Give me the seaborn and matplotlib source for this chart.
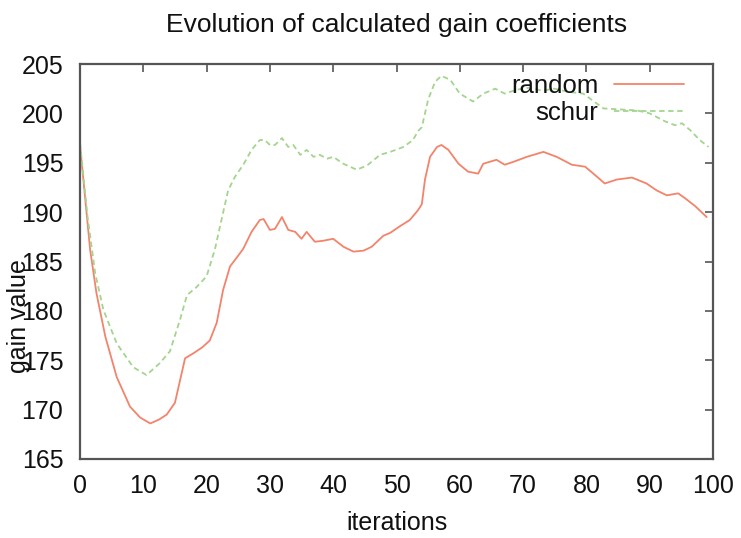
import matplotlib
matplotlib.use("Agg")
import matplotlib.pyplot as plt
from matplotlib.lines import Line2D
import seaborn as sns
import pandas as pd

# ---- data ----
random_x = [0, 1.6, 2.6, 4.0, 5.8, 7.9, 9.5, 11.1, 12.5, 13.7, 15.0, 16.6, 17.9, 19.3,
            20.5, 21.6, 22.6, 23.7, 25.0, 25.8, 27.1, 28.4, 29.0, 30.0, 30.8, 31.9,
            32.9, 34.0, 35.0, 35.8, 37.1, 38.4, 40.0, 41.6, 43.2, 44.8, 46.1, 47.9,
            49.0, 50.6, 52.1, 53.4, 54.0, 54.5, 55.3, 56.4, 57.1, 58.2, 59.8, 61.3,
            62.9, 63.7, 65.8, 67.1, 68.5, 70.6, 73.2, 75.3, 77.7, 79.8, 81.1, 82.9,
            84.8, 87.2, 89.5, 91.1, 92.7, 94.5, 95.6, 97.2, 99.0]
random_y = [196.8, 186.2, 181.8, 177.4, 173.3, 170.3, 169.2, 168.6, 169.0, 169.5, 170.7,
            175.2, 175.7, 176.3, 177.0, 178.8, 182.1, 184.5, 185.6, 186.3, 188.0, 189.2,
            189.3, 188.2, 188.3, 189.5, 188.2, 188.0, 187.3, 188.0, 187.0, 187.1, 187.3,
            186.5, 186.0, 186.1, 186.5, 187.6, 187.9, 188.6, 189.2, 190.2, 190.8, 193.3,
            195.6, 196.6, 196.8, 196.3, 194.9, 194.1, 193.9, 194.9, 195.3, 194.8, 195.1,
            195.6, 196.1, 195.6, 194.8, 194.6, 193.9, 192.9, 193.3, 193.5, 192.9, 192.2,
            191.7, 191.9, 191.4, 190.6, 189.5]

schur_x = [0, 1.2, 2.4, 3.7, 5.8, 8.4, 10.5, 12.6, 14.2, 15.8, 16.9, 18.4, 20.0, 21.3,
           22.1, 23.4, 24.5, 25.8, 27.1, 28.4, 29.2, 30.0, 30.8, 31.9, 32.9, 33.7, 34.8,
           35.8, 36.9, 37.9, 39.0, 40.0, 41.6, 43.7, 45.3, 47.4, 49.0, 51.1, 52.6, 53.4,
           54.0, 55.0, 56.1, 57.1, 58.5, 60.0, 62.1, 63.7, 65.6, 67.1, 69.0, 71.0, 73.0,
           75.0, 77.0, 79.5, 82.7, 85.3, 88.0, 90.0, 92.4, 94.0, 95.1, 96.4, 97.9, 99.3]
schur_y = [197.0, 189.5, 183.8, 180.1, 176.7, 174.3, 173.5, 174.7, 175.9, 179.1, 181.6,
           182.4, 183.5, 186.2, 188.5, 192.2, 193.6, 194.8, 196.3, 197.3, 197.3, 196.8,
           196.8, 197.5, 196.6, 196.8, 195.8, 196.3, 195.6, 195.8, 195.4, 195.6, 194.9,
           194.3, 194.7, 195.8, 196.1, 196.6, 197.3, 198.2, 198.6, 201.4, 203.2, 203.8,
           203.4, 202.0, 201.2, 202.0, 202.5, 202.0, 202.4, 202.6, 202.3, 202.5, 202.2,
           202.0, 200.5, 200.4, 200.3, 200.0, 199.2, 198.8, 199.0, 198.3, 197.3, 196.6]

x_ticks = [0, 10, 20, 30, 40, 50, 60, 70, 80, 90, 100]
y_ticks = [165, 170, 175, 180, 185, 190, 195, 200, 205]
series_names = ["random", "schur"]

df = pd.concat([
    pd.DataFrame({"iterations": random_x, "gain value": random_y, "method": "random"}),
    pd.DataFrame({"iterations": schur_x, "gain value": schur_y, "method": "schur"}),
], ignore_index=True)

sns.set_theme(style="white")
plt.rcParams["font.family"] = ["Liberation Sans", "DejaVu Sans"]

W, H = 741, 538
fig = plt.figure(figsize=(W / 100, H / 100), dpi=100)
ax_l, ax_r, ax_t, ax_b = 80, 713, 64, 459
ax = fig.add_axes([ax_l / W, 1 - ax_b / H, (ax_r - ax_l) / W, (ax_b - ax_t) / H])

colors = {"random": "#f3836b", "schur": "#a3d58f"}
sns.lineplot(data=df, x="iterations", y="gain value", hue="method", style="method",
             hue_order=series_names, style_order=series_names,
             palette=colors, dashes={"random": "", "schur": (3, 2)},
             estimator=None, sort=False, linewidth=1.3, ax=ax, legend=False)

ax.set_xlim(0, 100)
ax.set_ylim(165, 205)
ax.set_xticks(x_ticks)
ax.set_yticks(y_ticks)
ax.set_xticklabels([str(v) for v in x_ticks])
ax.set_yticklabels([str(v) for v in y_ticks])

for s in ax.spines.values():
    s.set_color("#555555")
    s.set_linewidth(1.6)
    s.set_visible(True)
ax.tick_params(axis="both", which="both", direction="in", length=6, width=1.2,
               color="#555555", top=True, right=True, labelsize=18, labelcolor="#111111")
ax.tick_params(axis="x", pad=11)
ax.tick_params(axis="y", pad=12)

ax.set_xlabel("iterations", fontsize=18, color="#111111")
ax.xaxis.label.set_va("center")
ax.xaxis.set_label_coords(0.5, (ax_b - 523) / (ax_b - ax_t))
ax.set_ylabel("gain value", fontsize=18, color="#111111")
ax.yaxis.label.set_va("center")
ax.yaxis.set_label_coords((19 - ax_l) / (ax_r - ax_l), (ax_b - 316) / (ax_b - ax_t))

ax.text(0.5, (ax_b - 25) / (ax_b - ax_t), "Evolution of calculated gain coefficients",
        transform=ax.transAxes, ha="center", va="center", fontsize=19, color="#111111")

handles = [Line2D([], [], color=colors["random"], lw=1.3),
           Line2D([], [], color=colors["schur"], lw=1.3, ls=(0, (3, 2)))]
leg = ax.legend(handles, series_names, loc="upper right", frameon=False,
                markerfirst=False, fontsize=18.5, handlelength=2.7, handletextpad=0.62,
                labelspacing=0.1, borderaxespad=0.3, bbox_to_anchor=(0.982, 1.02))
for col in leg._legend_handle_box.get_children():
    col.align = "right"
for t in leg.get_texts():
    t.set_color("#111111")

fig.savefig("out.png", dpi=100)
